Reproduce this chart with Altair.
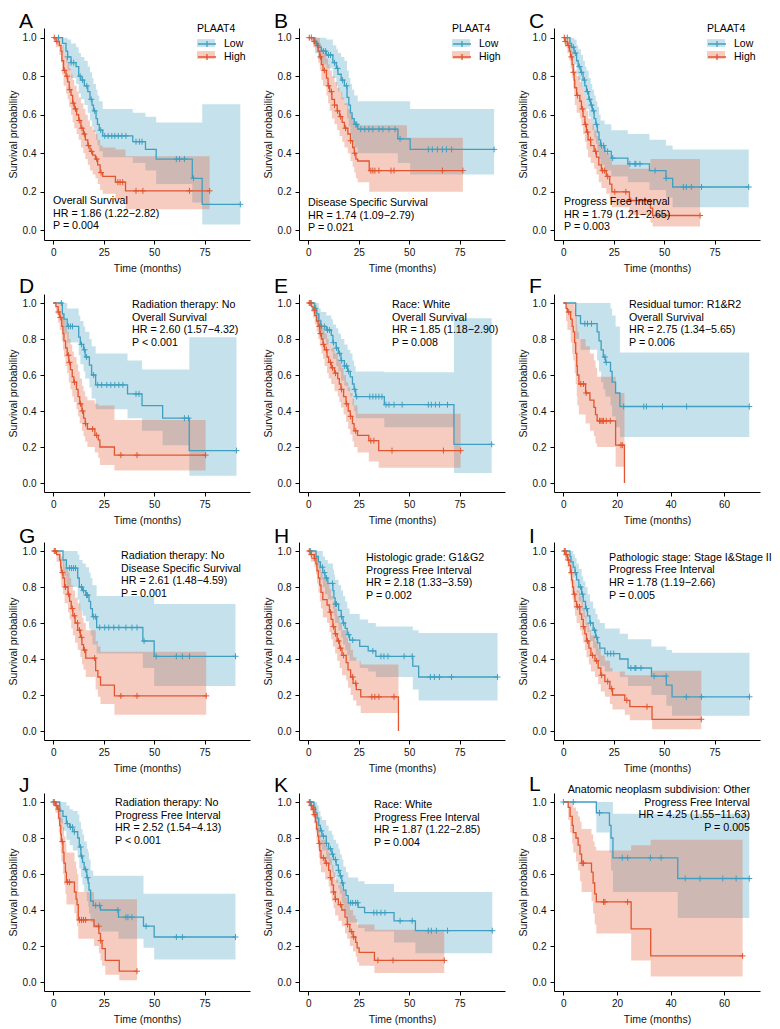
import altair as alt
import pandas as pd

FONT = "Liberation Sans"
LOW_COLOR = "#3F9FC1"
HIGH_COLOR = "#E1552F"
GROUPS = ["Low", "High"]
Y_TICKS = [0.0, 0.2, 0.4, 0.6, 0.8, 1.0]
X_TICKS_LONG = [0, 25, 50, 75]
X_TICKS_SHORT = [0, 20, 40, 60]
X_DOMAIN_LONG = [-4.6, 97.5]
X_DOMAIN_SHORT = [-3.5, 73.4]

# each step: (time, survival, lower CI, upper CI)
A_low = [(0, 1, 1, 1), (4.6, .97, .92, 1), (6.3, .93, .87, 1), (7.1, .90, .83, .99), (8.8, .87, .79, .97),
         (11.3, .85, .76, .95), (12.6, .80, .71, .92), (13.7, .78, .68, .90), (15.4, .75, .65, .88),
         (17.1, .72, .61, .85), (18.2, .68, .57, .82), (19.2, .65, .54, .79), (19.9, .62, .51, .76),
         (21.2, .58, .47, .73), (21.9, .55, .44, .70), (22.8, .52, .41, .67), (24.5, .49, .38, .63),
         (39.4, .46, .35, .61), (45.7, .42, .31, .59), (51.0, .37, .24, .56), (68.9, .27, .145, .56),
         (73.8, .135, .03, .655), (92.7, .135, .03, .655)]
A_high = [(0, 1, 1, 1), (1.3, .98, .95, 1), (3.0, .96, .91, 1), (3.8, .93, .87, 1), (4.3, .88, .81, .96),
          (5.1, .83, .75, .92), (6.3, .80, .71, .90), (7.1, .77, .68, .87), (7.9, .73, .64, .84),
          (8.8, .70, .60, .81), (9.6, .66, .56, .78), (10.4, .63, .53, .75), (11.6, .60, .50, .72),
          (12.6, .57, .47, .69), (13.7, .53, .43, .66), (14.9, .50, .40, .63), (15.9, .47, .37, .60),
          (17.1, .44, .34, .57), (18.2, .41, .31, .54), (19.5, .39, .29, .52), (20.9, .37, .27, .50),
          (22.0, .34, .24, .47), (23.2, .30, .21, .44), (24.5, .28, .19, .43), (30.8, .25, .16, .42),
          (35.8, .205, .11, .385), (77.5, .205, .11, .385)]
A_low_cens = [2.6, 7.1, 8.8, 10.1, 13.3, 14.5, 16.6, 18.8, 20.5, 23.5, 25.5, 27.2, 29.0, 30.5, 32.2, 34.0,
              36.0, 41.0, 42.7, 44.0, 61.0, 62.6, 65.0, 69.5, 92.7]
A_high_cens = [0.5, 1.8, 5.5, 6.8, 8.2, 9.9, 11.0, 12.9, 14.2, 15.4, 17.5, 19.0, 21.5, 23.7, 32.0, 33.1,
               34.4, 41.0, 44.4, 67.5, 77.5]

B_low = [(0, 1, 1, 1), (3.3, .97, .92, 1), (4.9, .95, .89, 1), (6.5, .93, .86, 1), (9.0, .91, .84, .99),
         (12.2, .87, .79, .96), (13.9, .84, .75, .94), (14.7, .81, .72, .92), (16.3, .78, .68, .90),
         (17.9, .75, .65, .88), (19.2, .69, .58, .83), (20.1, .65, .54, .79), (20.9, .61, .50, .76),
         (21.7, .58, .47, .73), (22.8, .55, .43, .70), (24.5, .525, .40, .67), (44.4, .475, .35, .67),
         (50.5, .42, .29, .63), (92.1, .42, .29, .63)]
B_high = [(0, 1, 1, 1), (2.4, .98, .95, 1), (4.1, .96, .92, 1), (4.9, .93, .87, 1), (5.7, .90, .83, .97),
          (6.5, .86, .78, .94), (7.3, .83, .75, .92), (9.0, .79, .70, .89), (9.8, .75, .66, .86),
          (10.6, .72, .62, .83), (11.7, .68, .58, .80), (13.0, .65, .55, .77), (14.3, .62, .52, .74),
          (15.5, .59, .49, .72), (16.8, .56, .46, .69), (17.9, .53, .43, .66), (19.6, .50, .40, .63),
          (20.9, .465, .36, .60), (22.0, .43, .33, .57), (22.8, .40, .30, .545), (23.6, .37, .27, .545),
          (24.5, .36, .25, .545), (30.2, .31, .20, .545), (48.9, .31, .20, .48), (76.6, .31, .20, .48)]
B_low_cens = [4.0, 7.5, 8.5, 10.0, 11.0, 13.0, 14.5, 17.0, 19.0, 23.5, 24.0, 26.0, 28.0, 30.0, 32.0, 35.0,
              37.0, 40.0, 43.0, 45.5, 59.5, 61.5, 64.0, 66.5, 68.5, 71.0, 92.1]
B_high_cens = [0.5, 1.5, 3.0, 4.5, 6.0, 8.0, 10.0, 11.5, 13.0, 14.5, 16.0, 18.5, 21.0, 23.0, 31.0, 32.0,
               33.0, 35.0, 41.0, 42.5, 66.5, 76.6]

C_low = [(0, 1, 1, 1), (3.3, .97, .93, 1), (4.1, .95, .90, 1), (5.4, .92, .86, .99), (6.6, .88, .81, .96),
         (7.4, .85, .78, .94), (8.7, .82, .74, .91), (9.8, .78, .70, .88), (10.7, .75, .66, .85),
         (11.5, .72, .63, .83), (12.6, .68, .59, .79), (13.6, .65, .55, .76), (14.4, .62, .52, .73),
         (15.3, .58, .48, .70), (16.1, .55, .45, .67), (16.9, .51, .41, .64), (17.7, .47, .37, .60),
         (18.5, .44, .34, .57), (20.5, .41, .31, .55), (23.8, .375, .28, .52), (32.0, .345, .25, .50),
         (42.7, .31, .21, .47), (50.9, .27, .17, .44), (54.2, .225, .12, .42), (91.9, .225, .12, .42)]
C_high = [(0, 1, 1, 1), (0.8, .98, .95, 1), (2.0, .96, .92, 1), (3.0, .93, .88, .99), (3.6, .90, .84, .96),
          (4.4, .86, .79, .93), (4.9, .82, .74, .90), (5.4, .78, .70, .87), (5.7, .74, .65, .83),
          (6.6, .70, .61, .80), (8.2, .67, .58, .77), (9.0, .63, .54, .74), (9.8, .59, .50, .70),
          (10.7, .55, .46, .66), (11.5, .51, .42, .62), (12.3, .47, .38, .58), (13.6, .44, .35, .55),
          (15.3, .41, .32, .52), (16.4, .38, .29, .49), (17.6, .34, .25, .46), (18.9, .31, .22, .43),
          (21.3, .28, .19, .40), (23.0, .24, .16, .37), (24.1, .20, .12, .34), (32.8, .155, .08, .32),
          (43.2, .115, .04, .37), (44.3, .077, .02, .37), (67.8, .077, .02, .37)]
C_low_cens = [2.0, 5.0, 6.0, 8.0, 9.0, 10.5, 12.0, 13.0, 14.0, 15.0, 16.5, 19.0, 20.0, 22.0, 24.5, 33.0,
              35.5, 36.0, 38.0, 45.5, 51.0, 59.5, 61.0, 63.5, 68.5, 91.9]
C_high_cens = [0.5, 1.0, 2.5, 4.0, 5.0, 7.0, 9.5, 11.0, 12.0, 13.5, 16.0, 19.5, 20.5, 22.0, 25.5, 31.0,
               33.5, 67.8]

D_low = [(0, 1, 1, 1), (4.5, .94, .87, 1), (5.3, .91, .83, 1), (6.9, .87, .78, .97), (12.6, .81, .71, .93),
         (13.4, .77, .66, .90), (15.0, .74, .62, .87), (15.8, .70, .58, .84), (17.9, .655, .53, .80),
         (19.0, .60, .47, .76), (21.0, .545, .41, .72), (36.8, .495, .36, .68), (44.0, .43, .29, .63),
         (54.2, .36, .21, .63), (67.4, .18, .04, .81), (90.8, .18, .04, .81)]
D_high = [(0, 1, 1, 1), (1.3, .98, .94, 1), (2.4, .95, .89, 1), (3.2, .92, .85, 1), (4.2, .87, .79, .97),
          (4.8, .83, .74, .94), (5.3, .79, .70, .91), (6.1, .75, .65, .87), (6.9, .71, .61, .84),
          (7.7, .67, .56, .80), (8.5, .63, .52, .77), (9.4, .59, .48, .73), (10.2, .56, .45, .70),
          (11.5, .52, .41, .66), (12.3, .48, .37, .62), (13.1, .44, .33, .58), (14.2, .40, .29, .54),
          (15.0, .36, .26, .51), (15.8, .33, .23, .48), (16.9, .30, .20, .46), (20.6, .265, .17, .44),
          (22.3, .24, .14, .43), (23.1, .20, .10, .43), (30.3, .155, .07, .35), (75.5, .155, .07, .35)]
D_low_cens = [4.0, 7.5, 8.5, 9.5, 14.0, 15.5, 16.5, 20.0, 22.0, 24.0, 26.5, 28.5, 30.5, 32.5, 34.5, 41.0,
              42.5, 65.0, 67.0, 90.8]
D_high_cens = [2.5, 3.5, 7.5, 8.0, 10.5, 13.5, 14.5, 16.0, 19.5, 21.5, 33.5, 41.5, 75.5]

E_low = [(0, 1, 1, 1), (3.2, .97, .93, 1), (4.1, .94, .89, 1), (5.2, .90, .84, .97), (6.2, .87, .80, .95),
         (8.9, .85, .77, .93), (11.4, .82, .73, .91), (12.2, .78, .69, .88), (13.8, .75, .65, .86),
         (14.9, .72, .62, .83), (16.2, .68, .57, .80), (17.9, .65, .54, .77), (19.5, .62, .51, .74),
         (20.8, .59, .48, .72), (21.9, .55, .43, .68), (22.7, .52, .40, .65), (23.5, .48, .36, .62),
         (37.7, .435, .31, .615), (72.2, .215, .055, .915), (90.9, .215, .055, .915)]
E_high = [(0, 1, 1, 1), (1.6, .98, .95, 1), (2.4, .96, .92, 1), (3.2, .93, .88, .99), (4.1, .90, .84, .96),
          (4.9, .87, .80, .94), (5.7, .83, .76, .91), (6.5, .80, .72, .88), (7.3, .77, .69, .86),
          (8.1, .74, .65, .83), (9.3, .70, .61, .80), (10.1, .67, .58, .77), (11.4, .64, .55, .75),
          (13.0, .61, .51, .72), (14.6, .58, .48, .69), (15.4, .55, .45, .67), (16.2, .52, .42, .64),
          (17.5, .48, .38, .60), (18.7, .44, .34, .56), (19.8, .40, .30, .53), (20.8, .37, .27, .50),
          (21.9, .33, .23, .47), (22.7, .29, .20, .43), (24.4, .265, .17, .385), (30.0, .235, .12, .385),
          (34.9, .18, .085, .385), (75.5, .18, .085, .385)]
E_low_cens = [1.5, 3.5, 6.5, 8.0, 9.5, 10.5, 12.5, 14.0, 15.5, 16.5, 18.0, 19.0, 20.0, 23.0, 24.0, 30.5,
              32.0, 33.5, 35.0, 36.5, 38.5, 40.0, 42.5, 46.5, 59.5, 61.0, 63.0, 65.0, 69.0, 90.9]
E_high_cens = [0.5, 1.0, 3.0, 5.5, 6.0, 7.5, 9.0, 11.0, 12.0, 13.5, 16.5, 19.0, 21.0, 23.5, 31.0, 32.5,
               41.5, 67.0, 75.5]

F_low = [(0, 1, 1, 1), (4.6, .93, .80, 1), (6.4, .885, .74, 1), (12.6, .84, .68, 1), (13.3, .79, .62, 1),
         (14.1, .74, .56, 1), (14.9, .70, .52, 1), (15.7, .67, .48, 1), (17.6, .62, .43, .97),
         (18.2, .56, .37, .93), (19.5, .50, .31, .87), (21.1, .425, .255, .725), (69.4, .425, .255, .725)]
F_high = [(0, 1, 1, 1), (1.0, .97, .90, 1), (1.5, .95, .85, 1), (2.7, .91, .78, 1), (3.3, .87, .72, 1),
          (3.7, .84, .68, 1), (4.2, .78, .61, .97), (4.6, .72, .55, .93), (5.0, .65, .48, .88),
          (5.2, .60, .43, .84), (5.8, .55, .38, .80), (8.3, .50, .33, .76), (9.9, .46, .29, .72),
          (11.4, .42, .26, .68), (12.0, .38, .22, .64), (12.6, .345, .20, .59), (19.5, .21, .09, .50),
          (22.8, 0.0, .09, .50)]
F_low_cens = [8.0, 9.0, 10.5, 15.5, 16.0, 22.5, 30.0, 31.0, 37.0, 46.0, 69.4]
F_high_cens = [2.0, 6.5, 7.5, 8.5, 13.5, 14.0, 14.5, 15.0, 16.0, 17.5, 21.5, 22.0]

G_low = [(0, 1, 1, 1), (4.8, .95, .86, 1), (6.5, .905, .80, 1), (12.1, .85, .73, .98), (12.9, .80, .67, .95),
         (14.5, .78, .64, .93), (16.1, .755, .61, .91), (17.7, .72, .57, .88), (18.5, .68, .53, .85),
         (19.4, .635, .48, .81), (21.5, .575, .43, .75), (44.4, .50, .35, .75), (50.0, .415, .25, .705),
         (90.3, .415, .25, .705)]
G_high = [(0, 1, 1, 1), (1.6, .98, .94, 1), (3.2, .95, .89, 1), (3.7, .91, .84, .99), (4.0, .88, .80, .97),
          (4.8, .85, .76, .95), (5.6, .80, .71, .91), (7.3, .76, .66, .88), (8.1, .72, .62, .85),
          (8.9, .68, .57, .81), (9.7, .64, .53, .78), (10.8, .60, .49, .74), (12.1, .56, .45, .71),
          (13.4, .52, .41, .67), (14.2, .48, .37, .63), (15.0, .45, .34, .60), (16.1, .405, .30, .56),
          (21.0, .335, .23, .50), (22.1, .30, .19, .47), (23.4, .255, .15, .44), (30.3, .195, .09, .44),
          (75.8, .195, .09, .44)]
G_low_cens = [8.0, 9.0, 10.0, 11.0, 14.0, 15.0, 16.5, 17.0, 20.0, 21.0, 23.0, 25.5, 27.5, 30.0, 32.5, 36.0,
              39.0, 41.5, 45.0, 51.0, 61.0, 64.0, 67.5, 90.3]
G_high_cens = [0.5, 1.0, 4.5, 6.0, 7.5, 9.5, 10.5, 12.0, 13.0, 14.0, 15.5, 20.5, 33.5, 41.5, 75.8]

H_low = [(0, 1, 1, 1), (3.8, .97, .92, 1), (5.0, .94, .88, 1), (6.0, .91, .84, 1), (7.2, .88, .80, .97),
         (8.3, .85, .76, .95), (9.7, .82, .73, .93), (12.2, .78, .68, .90), (12.7, .74, .64, .87),
         (13.3, .705, .60, .84), (15.0, .67, .56, .81), (16.3, .635, .52, .78), (17.2, .60, .48, .75),
         (18.3, .57, .45, .72), (19.3, .535, .42, .68), (20.5, .505, .39, .65), (25.5, .47, .35, .62),
         (29.7, .445, .33, .60), (33.5, .415, .30, .58), (51.8, .36, .23, .56), (54.7, .30, .17, .545),
         (93.8, .30, .17, .545)]
H_high = [(0, 1, 1, 1), (1.3, .98, .94, 1), (3.0, .96, .91, 1), (3.8, .93, .87, 1), (4.3, .89, .82, .97),
          (5.0, .85, .77, .94), (5.7, .81, .72, .91), (6.3, .77, .68, .88), (7.2, .73, .63, .85),
          (9.3, .70, .60, .82), (10.5, .66, .55, .79), (11.3, .62, .51, .75), (12.2, .58, .47, .72),
          (13.3, .54, .43, .68), (14.3, .50, .39, .64), (15.5, .46, .35, .60), (16.7, .42, .31, .56),
          (18.8, .38, .28, .52), (19.7, .34, .24, .49), (21.0, .30, .20, .45), (22.2, .265, .17, .41),
          (23.8, .23, .14, .39), (26.0, .19, .10, .37), (44.7, 0.0, .10, .37)]
H_low_cens = [1.0, 7.0, 8.0, 9.0, 12.0, 13.5, 14.0, 16.5, 17.5, 20.0, 22.0, 32.0, 36.0, 37.5, 39.5, 47.5,
              51.5, 60.5, 62.5, 65.0, 71.0, 93.8]
H_high_cens = [0.5, 1.5, 3.0, 11.0, 12.5, 13.5, 15.0, 16.0, 17.5, 22.0, 23.5, 31.5, 33.0, 35.0, 42.5]

I_low = [(0, 1, 1, 1), (3.3, .97, .93, 1), (3.8, .94, .89, 1), (4.9, .91, .85, .98), (5.8, .88, .81, .96),
         (6.6, .84, .77, .93), (7.7, .80, .72, .90), (9.1, .76, .67, .86), (9.9, .72, .63, .83),
         (11.0, .68, .59, .80), (12.0, .64, .55, .76), (13.2, .60, .50, .72), (14.8, .56, .46, .68),
         (16.0, .52, .42, .65), (17.0, .49, .39, .62), (18.1, .46, .36, .60), (20.6, .43, .33, .57),
         (28.0, .40, .30, .54), (32.1, .35, .25, .51), (43.7, .305, .20, .47), (51.1, .255, .14, .45),
         (53.9, .19, .085, .435), (92.3, .19, .085, .435)]
I_high = [(0, 1, 1, 1), (0.8, .98, .95, 1), (2.1, .95, .91, 1), (2.8, .92, .87, .98), (3.6, .88, .82, .95),
          (4.1, .84, .77, .91), (4.6, .80, .73, .88), (5.1, .76, .68, .84), (5.8, .72, .64, .81),
          (6.6, .69, .60, .78), (8.2, .65, .56, .75), (9.1, .62, .53, .72), (9.9, .58, .49, .68),
          (10.7, .54, .45, .64), (11.5, .50, .41, .60), (12.7, .46, .37, .56), (13.7, .42, .33, .53),
          (15.7, .39, .30, .50), (17.3, .35, .26, .46), (18.6, .31, .22, .42), (20.6, .275, .19, .39),
          (23.1, .235, .15, .35), (24.4, .20, .12, .33), (30.5, .17, .09, .31), (33.0, .135, .06, .31),
          (44.0, .065, .01, .335), (68.4, .065, .01, .335)]
I_low_cens = [1.0, 6.0, 8.5, 9.5, 11.5, 13.5, 15.5, 16.5, 22.0, 23.5, 25.0, 33.5, 35.5, 36.0, 38.5, 45.0,
              51.0, 61.0, 68.5, 92.3]
I_high_cens = [0.5, 1.5, 2.5, 4.0, 5.5, 7.0, 8.0, 10.0, 12.0, 14.5, 16.5, 19.0, 22.0, 24.0, 31.5, 41.5, 68.4]

J_low = [(0, 1, 1, 1), (3.2, .95, .88, 1), (4.8, .92, .84, 1), (6.5, .88, .79, .98), (8.1, .86, .76, .96),
         (9.7, .835, .73, .95), (12.1, .80, .69, .93), (12.9, .75, .63, .89), (13.7, .70, .58, .85),
         (14.5, .665, .54, .82), (15.3, .625, .50, .78), (16.6, .58, .45, .74), (17.3, .55, .42, .72),
         (17.7, .51, .38, .68), (18.5, .45, .33, .62), (19.8, .425, .30, .59), (23.4, .40, .28, .59),
         (32.3, .36, .24, .59), (44.7, .31, .19, .49), (50.0, .25, .125, .49), (90.3, .25, .125, .49)]
J_high = [(0, 1, 1, 1), (1.1, .98, .94, 1), (2.1, .96, .90, 1), (2.7, .91, .83, 1), (3.2, .87, .78, .98),
          (3.7, .82, .72, .94), (4.0, .78, .67, .91), (4.8, .72, .60, .86), (5.3, .66, .54, .81),
          (6.0, .61, .49, .77), (6.5, .555, .43, .72), (10.5, .50, .38, .67), (11.3, .46, .34, .63),
          (11.8, .43, .31, .60), (12.4, .345, .24, .50), (20.2, .31, .20, .46), (22.6, .27, .16, .46),
          (23.4, .23, .12, .46), (24.2, .185, .09, .46), (25.8, .12, .04, .46), (32.7, .06, .01, .46),
          (41.5, .06, .01, .46)]
J_low_cens = [0.0, 7.0, 8.5, 9.5, 10.5, 13.5, 14.0, 16.0, 17.0, 21.0, 23.0, 32.0, 36.0, 37.0, 39.0, 46.0,
              61.0, 64.0, 90.3]
J_high_cens = [0.5, 1.5, 2.5, 4.5, 7.0, 8.0, 13.0, 14.0, 15.0, 16.0, 22.5, 23.5, 41.5]

K_low = [(0, 1, 1, 1), (2.8, .97, .93, 1), (3.6, .94, .89, 1), (4.4, .91, .85, .98), (5.2, .87, .80, .95),
         (6.0, .84, .76, .92), (6.8, .81, .73, .90), (8.9, .77, .68, .87), (10.1, .74, .65, .84),
         (11.7, .71, .61, .82), (12.5, .68, .58, .79), (13.8, .65, .55, .77), (14.9, .62, .52, .74),
         (15.7, .59, .49, .71), (16.6, .55, .44, .68), (17.4, .51, .40, .64), (18.7, .48, .37, .61),
         (19.8, .44, .33, .58), (24.7, .415, .30, .56), (27.9, .385, .28, .545), (42.5, .34, .22, .50),
         (53.1, .285, .16, .50), (91.2, .285, .16, .50)]
K_high = [(0, 1, 1, 1), (1.1, .98, .95, 1), (1.9, .96, .92, 1), (2.8, .93, .88, .99), (3.6, .89, .83, .96),
          (4.1, .85, .78, .93), (4.7, .81, .74, .89), (5.2, .77, .69, .86), (5.7, .73, .65, .82),
          (6.3, .69, .61, .79), (8.4, .66, .57, .76), (10.1, .62, .53, .72), (10.9, .58, .49, .69),
          (11.7, .54, .45, .65), (12.5, .50, .41, .61), (13.3, .46, .37, .57), (14.9, .43, .34, .54),
          (16.6, .40, .31, .51), (18.2, .36, .27, .47), (19.3, .32, .24, .44), (20.6, .28, .20, .40),
          (22.2, .25, .17, .37), (23.5, .22, .14, .35), (24.2, .19, .11, .32), (25.2, .165, .09, .32),
          (32.8, .12, .05, .29), (67.4, .12, .05, .29)]
K_low_cens = [1.0, 6.5, 7.5, 9.0, 11.0, 12.0, 13.5, 15.0, 16.0, 17.0, 21.0, 22.0, 23.5, 24.5, 32.5, 34.0,
              36.0, 38.0, 45.5, 51.5, 59.5, 61.0, 63.5, 69.0, 91.2]
K_high_cens = [0.5, 1.5, 2.5, 3.0, 5.5, 7.5, 9.0, 11.0, 12.5, 13.5, 16.0, 19.5, 21.5, 22.5, 34.5, 42.0, 67.4]

L_low = [(0, 1, 1, 1), (12.3, .94, .83, 1), (17.2, .87, .72, 1), (17.8, .80, .62, 1), (18.5, .69, .50, .935),
         (42.7, .575, .355, .935), (69.4, .575, .355, .935)]
L_high = [(0, 1, 1, 1), (1.8, .97, .90, 1), (2.5, .92, .83, 1), (3.3, .87, .77, 1), (3.7, .83, .72, .97),
          (4.7, .80, .67, .95), (5.5, .76, .62, .92), (6.2, .71, .56, .89), (6.8, .66, .50, .85),
          (10.5, .61, .45, .82), (11.1, .55, .38, .78), (11.7, .49, .32, .75), (12.3, .445, .27, .73),
          (25.3, .295, .12, .76), (32.6, .145, .03, .79), (66.9, .145, .03, .79)]
L_low_cens = [0.0, 3.7, 13.5, 22.0, 24.0, 32.5, 36.5, 45.5, 51.0, 59.5, 64.5, 69.4]
L_high_cens = [7.0, 7.5, 15.0, 15.5, 24.0, 66.9]

MINUS = "\u2212"
NOTES_A = ["Overall Survival", f"HR = 1.86 (1.22{MINUS}2.82)", "P = 0.004"]
NOTES_B = ["Disease Specific Survival", f"HR = 1.74 (1.09{MINUS}2.79)", "P = 0.021"]
NOTES_C = ["Progress Free Interval", f"HR = 1.79 (1.21{MINUS}2.65)", "P = 0.003"]
NOTES_D = ["Radiation therapy: No", "Overall Survival", f"HR = 2.60 (1.57{MINUS}4.32)", "P < 0.001"]
NOTES_E = ["Race: White", "Overall Survival", f"HR = 1.85 (1.18{MINUS}2.90)", "P = 0.008"]
NOTES_F = ["Residual tumor: R1&R2", "Overall Survival", f"HR = 2.75 (1.34{MINUS}5.65)", "P = 0.006"]
NOTES_G = ["Radiation therapy: No", "Disease Specific Survival", f"HR = 2.61 (1.48{MINUS}4.59)", "P = 0.001"]
NOTES_H = ["Histologic grade: G1&G2", "Progress Free Interval", f"HR = 2.18 (1.33{MINUS}3.59)", "P = 0.002"]
NOTES_I = ["Pathologic stage: Stage I&Stage II", "Progress Free Interval", f"HR = 1.78 (1.19{MINUS}2.66)", "P = 0.005"]
NOTES_J = ["Radiation therapy: No", "Progress Free Interval", f"HR = 2.52 (1.54{MINUS}4.13)", "P < 0.001"]
NOTES_K = ["Race: White", "Progress Free Interval", f"HR = 1.87 (1.22{MINUS}2.85)", "P = 0.004"]
NOTES_L = ["Anatomic neoplasm subdivision: Other", "Progress Free Interval", f"HR = 4.25 (1.55{MINUS}11.63)", "P = 0.005"]

RECT_PATH = "M-1,-0.65H2V0.65H-1Z"
LINE_PATH = "M-1,0H2M0.5,-0.5V0.5"
PLUS_PATH = "M-1,0H1M0,-1V1"


def step_frame(low, high):
    rows = []
    for grp, steps in (("Low", low), ("High", high)):
        for t, s, lo, hi in steps:
            rows.append({"t": t, "s": s, "lo": lo, "hi": hi, "group": grp})
    return pd.DataFrame(rows)


def censor_frame(low, high, low_c, high_c):
    rows = []
    for grp, steps, cens in (("Low", low, low_c), ("High", high, high_c)):
        for c in cens:
            level = steps[0][1]
            for t, s, _, _ in steps:
                if t <= c:
                    level = s
            rows.append({"t": c, "s": level, "group": grp})
    return pd.DataFrame(rows)


def make_panel(letter, low, high, low_c, high_c, short, notes, nx, ny, nalign, height, legend, toff):
    xdom = X_DOMAIN_SHORT if short else X_DOMAIN_LONG
    xticks = X_TICKS_SHORT if short else X_TICKS_LONG
    xenc = alt.X("t:Q", scale=alt.Scale(domain=xdom, nice=False, zero=False),
                 axis=alt.Axis(values=xticks, format="d", title="Time (months)"))
    yscale = alt.Scale(domain=[-0.05, 1.05], nice=False, zero=False)
    yaxis = alt.Axis(values=Y_TICKS, format=".1f", title="Survival probability")
    if legend:
        common = dict(orient="none", legendX=153, legendY=-4, title="PLAAT4", direction="vertical",
                      labelFont=FONT, titleFont=FONT, labelFontSize=10.5, titleFontSize=10.5,
                      titleFontWeight="normal", labelColor="black", titleColor="black",
                      symbolSize=144, labelOffset=13, rowPadding=0, titlePadding=2.5)
        fill_leg = alt.Legend(symbolType=RECT_PATH, symbolOpacity=0.3, symbolStrokeWidth=0,
                              labelOpacity=0, titleOpacity=0, **common)
        stroke_leg = alt.Legend(symbolType=LINE_PATH, symbolStrokeWidth=1.3, symbolOpacity=1, **common)
    else:
        fill_leg = None
        stroke_leg = None
    fill_enc = alt.Fill("group:N", scale=alt.Scale(domain=GROUPS, range=[LOW_COLOR, HIGH_COLOR]),
                        legend=fill_leg)
    stroke_enc = alt.Stroke("group:N", sort=GROUPS, scale=alt.Scale(range=[LOW_COLOR, HIGH_COLOR]),
                            legend=stroke_leg)
    steps = step_frame(low, high)
    cens = censor_frame(low, high, low_c, high_c)
    area = alt.Chart(steps).mark_area(interpolate="step-after", opacity=0.3).encode(
        x=xenc, y=alt.Y("lo:Q", scale=yscale, axis=yaxis), y2="hi:Q", fill=fill_enc)
    line = alt.Chart(steps).mark_line(interpolate="step-after", strokeWidth=1.3).encode(
        x=xenc, y=alt.Y("s:Q", scale=yscale, axis=yaxis), stroke=stroke_enc)
    pts = alt.Chart(cens).mark_point(shape=PLUS_PATH, size=36, filled=False, strokeWidth=1,
                                     opacity=1).encode(
        x=xenc, y=alt.Y("s:Q", scale=yscale, axis=yaxis), stroke=stroke_enc)
    note = alt.Chart(pd.DataFrame({"k": [0]})).mark_text(
        align=nalign, baseline="top", fontSize=10.7, lineHeight=12.7, font=FONT, color="black").encode(
        x=alt.value(nx), y=alt.value(ny), text=alt.value(notes))
    return alt.layer(area, line, pts, note).properties(
        width=206, height=height,
        title=alt.TitleParams(letter, anchor="start", frame="group", dx=-25, fontSize=21,
                              fontWeight="normal", font=FONT, color="black", offset=toff))


H1 = 212
H2 = 198
row1 = [
    make_panel("A", A_low, A_high, A_low_cens, A_high_cens, False, NOTES_A, 9, 168, "left", H1, True, -8),
    make_panel("B", B_low, B_high, B_low_cens, B_high_cens, False, NOTES_B, 9, 170, "left", H1, True, -8),
    make_panel("C", C_low, C_high, C_low_cens, C_high_cens, False, NOTES_C, 10, 169, "left", H1, True, -8),
]
row2 = [
    make_panel("D", D_low, D_high, D_low_cens, D_high_cens, False, NOTES_D, 88, 6, "left", H2, False, -3),
    make_panel("E", E_low, E_high, E_low_cens, E_high_cens, False, NOTES_E, 93, 6, "left", H2, False, -3),
    make_panel("F", F_low, F_high, F_low_cens, F_high_cens, True, NOTES_F, 75, 6, "left", H2, False, -3),
]
row3 = [
    make_panel("G", G_low, G_high, G_low_cens, G_high_cens, False, NOTES_G, 77, 9, "left", H2, False, -5),
    make_panel("H", H_low, H_high, H_low_cens, H_high_cens, False, NOTES_H, 67, 11, "left", H2, False, -5),
    make_panel("I", I_low, I_high, I_low_cens, I_high_cens, False, NOTES_I, 55, 10.5, "left", H2, False, -5),
]
row4 = [
    make_panel("J", J_low, J_high, J_low_cens, J_high_cens, False, NOTES_J, 71, 5, "left", H2, False, -3),
    make_panel("K", K_low, K_high, K_low_cens, K_high_cens, False, NOTES_K, 75, 7, "left", H2, False, -3),
    make_panel("L", L_low, L_high, L_low_cens, L_high_cens, True, NOTES_L, 196, -8, "right", H2, False, -11),
]


def hrow(panels):
    return alt.hconcat(*panels, spacing=13).resolve_scale(fill="independent", stroke="independent")


lower = alt.vconcat(hrow(row2), hrow(row3), hrow(row4), spacing=0).resolve_scale(
    fill="independent", stroke="independent")

chart = alt.vconcat(hrow(row1), lower, spacing=2).resolve_scale(
    fill="independent", stroke="independent"
).properties(
    padding={"left": 0, "top": 3, "right": 0, "bottom": 0}
).configure_view(stroke=None).configure_axis(
    grid=False, domainColor="black", tickColor="black", labelColor="#111111", titleColor="#111111",
    labelFont=FONT, titleFont=FONT, labelFontSize=10, titleFontSize=10.5, titleFontWeight="normal",
    tickSize=4, domainWidth=1, tickWidth=1, labelPadding=3
).configure_axisY(titlePadding=4, labelPadding=4).configure_axisX(titlePadding=6)

chart.save("out.html", embed_options={"renderer": "svg", "actions": False})
